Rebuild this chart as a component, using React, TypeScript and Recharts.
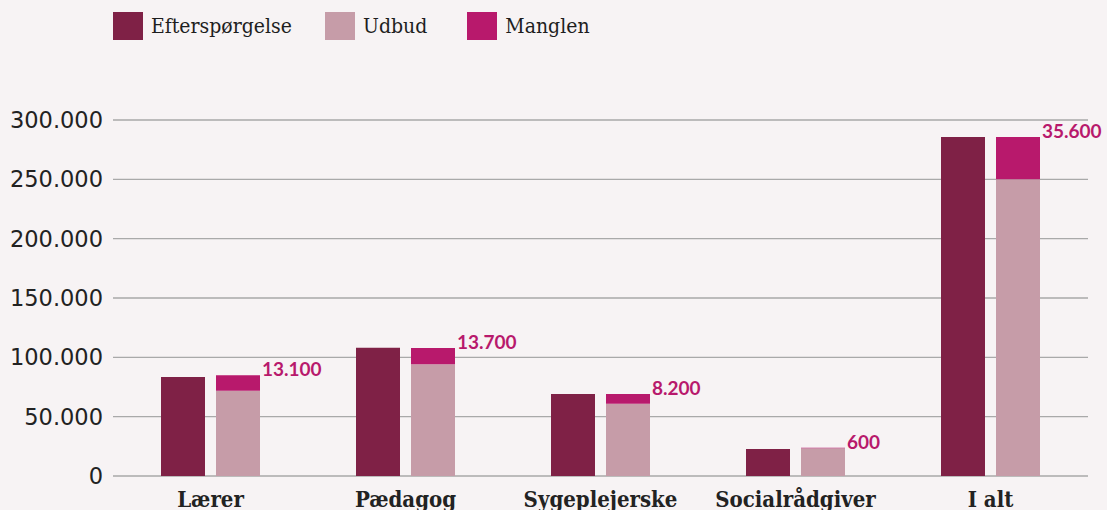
import { BarChart, Bar, XAxis, YAxis, CartesianGrid, LabelList } from 'recharts';

// values
const categories = ['Lærer', 'Pædagog', 'Sygeplejerske', 'Socialrådgiver', 'I alt'];
const efterspoergsel = [83500, 108000, 69000, 22800, 285700];
const udbud = [71800, 94100, 60800, 23300, 250100];
const manglen = [13100, 13700, 8200, 600, 35600];
const yTicks = [0, 50000, 100000, 150000, 200000, 250000, 300000];

const COLORS = { demand: '#7f2146', supply: '#c69ca8', gap: '#b8196c' };
const BG = '#f7f3f4';

const fmt = (v: number) => String(v).replace(/\B(?=(\d{3})+(?!\d))/g, '.');

const data = categories.map((name, i) => ({
  name,
  demand: efterspoergsel[i],
  supply: udbud[i],
  gap: manglen[i],
}));

const legendItems = [
  { label: 'Efterspørgelse', color: COLORS.demand },
  { label: 'Udbud', color: COLORS.supply },
  { label: 'Manglen', color: COLORS.gap },
];

const GapLabel = (props: any) => {
  const { x, y, width, value } = props;
  return (
    <text
      x={Number(x) + Number(width) + 2}
      y={Number(y) + 1}
      textAnchor="start"
      fill={COLORS.gap}
      fontFamily="Lato, sans-serif"
      fontWeight={700}
      fontSize={19}
    >
      {fmt(value)}
    </text>
  );
};

export default function App() {
  return (
    <div style={{ position: 'absolute', left: 0, top: 0, width: 1107, height: 510, background: BG, overflow: 'hidden' }}>
      <div style={{ position: 'absolute', left: 113, top: 12, display: 'flex', alignItems: 'center' }}>
        {legendItems.map((it, i) => (
          <div key={it.label} style={{ display: 'flex', alignItems: 'center', marginRight: i === 0 ? 33 : 40 }}>
            <span style={{ width: 30, height: 28, background: it.color, display: 'inline-block' }} />
            <span
              style={{
                marginLeft: 8,
                fontFamily: "'DejaVu Serif Condensed', 'DejaVu Serif', serif",
                fontStretch: 'condensed',
                fontSize: 21,
                color: '#1e1e1e',
              }}
            >
              {it.label}
            </span>
          </div>
        ))}
      </div>
      <BarChart
        width={1107}
        height={510}
        data={data}
        margin={{ top: 120, right: 19, left: 0, bottom: 0 }}
        barGap={11}
        barSize={44}
        style={{ position: 'absolute', left: 0, top: 0 }}
      >
        <CartesianGrid vertical={false} stroke="#a9a9a9" strokeWidth={1.3} />
        <YAxis
          width={113}
          domain={[0, 300000]}
          ticks={yTicks}
          tickFormatter={fmt}
          axisLine={false}
          tickLine={false}
          tickMargin={4}
          tick={{ fill: '#222', fontSize: 22.5, fontFamily: "'DejaVu Sans', sans-serif" }}
        />
        <XAxis
          dataKey="name"
          height={34}
          axisLine={false}
          tickLine={false}
          tickMargin={9}
          interval={0}
          tick={{
            fill: '#222',
            fontSize: 22,
            fontWeight: 700,
            fontFamily: "'DejaVu Serif Condensed', 'DejaVu Serif', serif",
          }}
        />
        <Bar dataKey="demand" name="Efterspørgelse" stackId="d" fill={COLORS.demand} isAnimationActive={false} />
        <Bar dataKey="supply" name="Udbud" stackId="s" fill={COLORS.supply} isAnimationActive={false} />
        <Bar dataKey="gap" name="Manglen" stackId="s" fill={COLORS.gap} isAnimationActive={false}>
          <LabelList dataKey="gap" content={<GapLabel />} />
        </Bar>
      </BarChart>
    </div>
  );
}
